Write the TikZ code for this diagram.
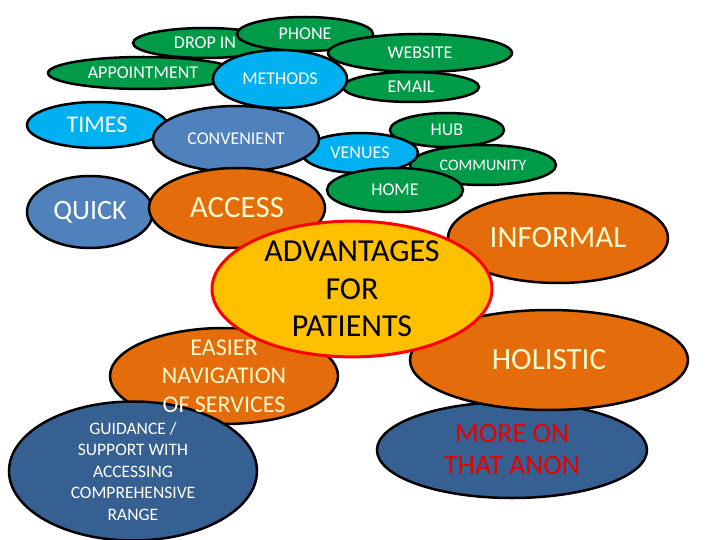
\documentclass[tikz,border=0pt]{standalone}
\usepackage{fontspec}
\setmainfont{Carlito}
\usetikzlibrary{shapes.geometric}
\definecolor{grn}{RGB}{0,155,72}
\definecolor{lblue}{RGB}{0,176,240}
\definecolor{sblue}{RGB}{79,129,189}
\definecolor{orng}{RGB}{228,108,10}
\definecolor{dblue}{RGB}{55,96,146}
\definecolor{yel}{RGB}{255,192,0}
\definecolor{cream}{RGB}{255,250,205}
\definecolor{redtxt}{RGB}{230,0,0}
\begin{document}
\begin{tikzpicture}[x=1pt,y=-1pt,
  ell/.style={ellipse, draw=black, line width=2.5pt, inner sep=0pt, align=center, text=white},
  fs/.style 2 args={font=\fontsize{#1}{#2}\selectfont},
  dim/.style 2 args={minimum width=#1pt, minimum height=#2pt},
  greenell/.style={ell, fill=grn, fs={18}{21.6}},
  orangeell/.style={ell, fill=orng, text=cream}
]
\useasboundingbox (0,0) rectangle (720,540);
\node[greenell, dim={144}{30}] (dropin) at (205,43) {DROP IN};
\node[greenell, dim={190}{32}] (appt) at (143,73) {APPOINTMENT};
\node[greenell, dim={136}{34}] (phone) at (305,34) {PHONE};
\node[greenell, dim={136}{30}] (email) at (411,87) {EMAIL};
\node[greenell, dim={184}{38}] (website) at (420,53) {WEBSITE};
\node[ell, fill=lblue, fs={18}{21.6}, dim={134}{58}] (methods) at (280,79) {METHODS};
\node[ell, fill=lblue, fs={24}{28.8}, dim={140}{46}] (times) at (97,125) {TIMES};
\node[greenell, dim={114}{34}] (hub) at (447,130) {HUB};
\node[greenell, fs={16}{19.2}, dim={146}{40}] (community) at (483,165) {COMMUNITY};
\node[ell, fill=lblue, fs={18}{21.6}, dim={116}{40}] (venues) at (360,153) {VENUES};
\node[ell, fill=sblue, fs={18}{21.6}, dim={166}{66}] (convenient) at (236,139) {CONVENIENT};
\node[greenell, dim={136}{44}] (home) at (395,190) {HOME};
\node[ell, fill=sblue, fs={28}{32}, dim={126}{72}] (quick) at (90,212) {QUICK};
\node[orangeell, fs={31}{36}, dim={176}{80}] (access) at (237,208) {ACCESS};
\node[orangeell, fs={31}{36}, dim={220}{90}] (informal) at (558,238) {INFORMAL};
\node[ell, fill=dblue, text=redtxt, fs={28}{32}, dim={270}{96}] (moreon) at (512,450) {MORE ON\\THAT ANON};
\node[orangeell, fs={31}{36}, dim={278}{100}] (holistic) at (549,360) {HOLISTIC};
\node[orangeell, dim={228}{96}] (easier) at (224,376) {};
\node[ell, fill=dblue, fs={17.5}{21.5}, dim={248}{118}] (guidance) at (133,471) {GUIDANCE /\\SUPPORT WITH\\ACCESSING\\COMPREHENSIVE\\RANGE};
\node[align=center, text=cream, fs={24}{28.5}, inner sep=0pt] (easiertext) at (easier.center) {EASIER\\NAVIGATION\\OF SERVICES};
\node[ell, fill=yel, draw=red, line width=3pt, text=black, fs={32}{37.5}, dim={280}{126}] (adv) at (352,289) {ADVANTAGES\\FOR\\PATIENTS};
\end{tikzpicture}
\end{document}
